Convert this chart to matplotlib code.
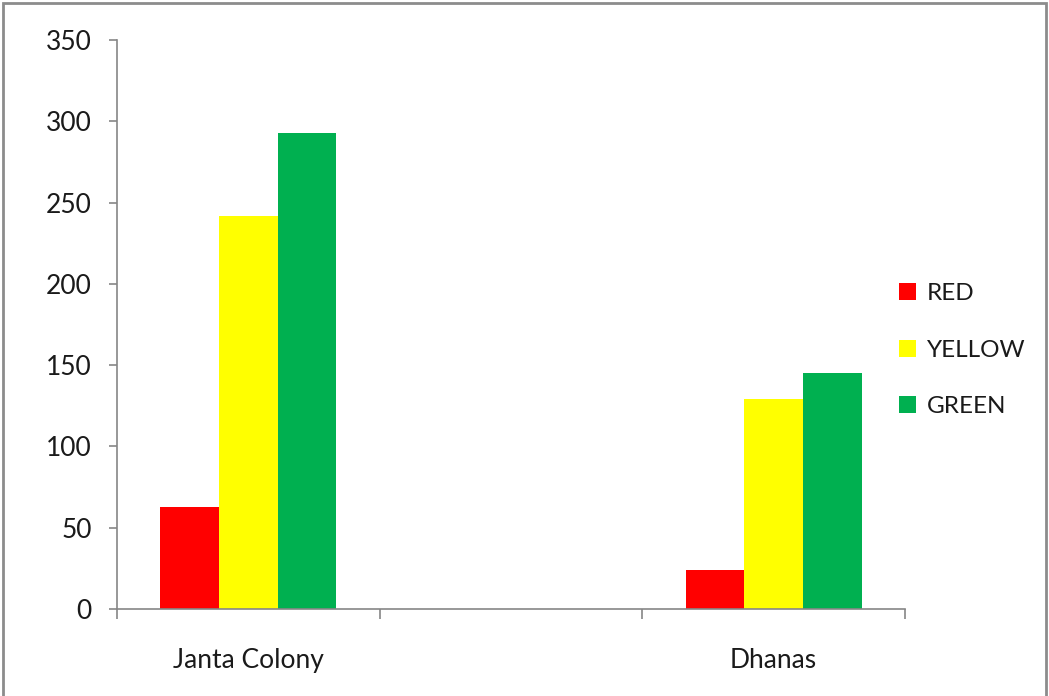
import numpy as np
import matplotlib
matplotlib.use("Agg")
import matplotlib.pyplot as plt
from matplotlib.patches import Patch, Rectangle

# data
categories = ["Janta Colony", "", "Dhanas"]
series_names = ["RED", "YELLOW", "GREEN"]
red_vals = [63, 0, 24]
yellow_vals = [242, 0, 129]
green_vals = [293, 0, 145]
colors = ["#FF0000", "#FFFF00", "#00B050"]
y_ticks = [0, 50, 100, 150, 200, 250, 300, 350]

plt.rcParams["font.family"] = ["Lato", "DejaVu Sans"]
AXIS_GRAY = "#868686"

fig = plt.figure(figsize=(10.49, 6.96), dpi=100)
ax = fig.add_axes([0.1115, 0.125, 0.7512, 0.8175])

x = np.arange(len(categories)) + 0.5
width = 0.223
for i, (vals, col) in enumerate(zip([red_vals, yellow_vals, green_vals], colors)):
    ax.bar(x + (i - 1) * width, vals, width, color=col, linewidth=0)

ax.set_xlim(0, len(categories))
ax.set_ylim(0, 350)
ax.set_yticks(y_ticks)
ax.set_xticks(x)
ax.set_xticklabels(categories)
ax.set_xticks(np.arange(len(categories) + 1), minor=True)

for s in ["top", "right"]:
    ax.spines[s].set_visible(False)
for s in ["left", "bottom"]:
    ax.spines[s].set_color(AXIS_GRAY)
    ax.spines[s].set_linewidth(1.2)

ax.tick_params(axis="y", direction="out", length=6, width=1.2, color=AXIS_GRAY,
               labelsize=19, pad=12, labelcolor="#1a1a1a")
ax.tick_params(axis="x", which="major", length=0, labelsize=19, pad=28,
               labelcolor="#1a1a1a")
ax.tick_params(axis="x", which="minor", direction="out", length=7, width=1.2,
               color=AXIS_GRAY)

handles = [Patch(facecolor=c, edgecolor="none") for c in colors]
fig.legend(handles, series_names, loc="center left", bbox_to_anchor=(0.836, 0.497),
           frameon=False, fontsize=17.5, handlelength=0.7, handleheight=0.7,
           handletextpad=0.45, labelspacing=1.45, labelcolor="#1a1a1a")

# outer border (top, left, right)
fig.patches.append(Rectangle((0.003, -0.01), 0.994, 1.005, transform=fig.transFigure,
                             fill=False, edgecolor="#8C8C8C", linewidth=2))

fig.savefig("out.png", dpi=100)
